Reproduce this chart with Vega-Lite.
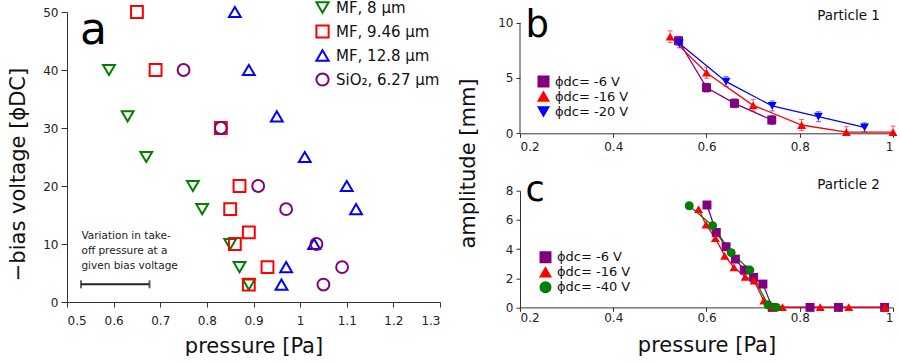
{
  "$schema": "https://vega.github.io/schema/vega-lite/v6.json",
  "background": "white",
  "padding": {"left": 7, "top": 0, "right": 2, "bottom": 0},
  "config": {
    "font": "DejaVu Sans",
    "view": {"stroke": null},
    "axis": {"grid": false, "domainColor": "#333", "tickColor": "#333", "labelColor": "#222", "labelFontSize": 12, "titleFontSize": 21, "titleFontWeight": "normal", "titleColor": "#111", "labelFont": "DejaVu Sans", "titleFont": "DejaVu Sans"},
    "legend": {"labelFont": "DejaVu Sans", "padding": 0, "labelColor": "#111", "symbolOpacity": 1}
  },
  "spacing": 16,
  "resolve": {"scale": {"x": "independent", "y": "independent", "color": "independent", "shape": "independent"}, "legend": {"color": "independent", "shape": "independent"}},
  "hconcat": [
    {
      "width": 373,
      "height": 290,
      "layer": [
        {
          "data": {"values": [
            {"s": "MF, 8 µm", "p": 0.59, "v": 40},
            {"s": "MF, 8 µm", "p": 0.63, "v": 32},
            {"s": "MF, 8 µm", "p": 0.67, "v": 25},
            {"s": "MF, 8 µm", "p": 0.77, "v": 20},
            {"s": "MF, 8 µm", "p": 0.79, "v": 16},
            {"s": "MF, 8 µm", "p": 0.85, "v": 10},
            {"s": "MF, 8 µm", "p": 0.87, "v": 6},
            {"s": "MF, 8 µm", "p": 0.89, "v": 3},
            {"s": "MF, 9.46 µm", "p": 0.65, "v": 50},
            {"s": "MF, 9.46 µm", "p": 0.69, "v": 40},
            {"s": "MF, 9.46 µm", "p": 0.83, "v": 30},
            {"s": "MF, 9.46 µm", "p": 0.87, "v": 20},
            {"s": "MF, 9.46 µm", "p": 0.85, "v": 16},
            {"s": "MF, 9.46 µm", "p": 0.89, "v": 12},
            {"s": "MF, 9.46 µm", "p": 0.86, "v": 10},
            {"s": "MF, 9.46 µm", "p": 0.93, "v": 6},
            {"s": "MF, 9.46 µm", "p": 0.89, "v": 3},
            {"s": "MF, 12.8 µm", "p": 0.86, "v": 50},
            {"s": "MF, 12.8 µm", "p": 0.89, "v": 40},
            {"s": "MF, 12.8 µm", "p": 0.95, "v": 32},
            {"s": "MF, 12.8 µm", "p": 1.01, "v": 25},
            {"s": "MF, 12.8 µm", "p": 1.10, "v": 20},
            {"s": "MF, 12.8 µm", "p": 1.12, "v": 16},
            {"s": "MF, 12.8 µm", "p": 1.03, "v": 10},
            {"s": "MF, 12.8 µm", "p": 0.97, "v": 6},
            {"s": "MF, 12.8 µm", "p": 0.96, "v": 3},
            {"s": "SiO₂, 6.27 µm", "p": 0.75, "v": 40},
            {"s": "SiO₂, 6.27 µm", "p": 0.83, "v": 30},
            {"s": "SiO₂, 6.27 µm", "p": 0.91, "v": 20},
            {"s": "SiO₂, 6.27 µm", "p": 0.97, "v": 16},
            {"s": "SiO₂, 6.27 µm", "p": 1.035, "v": 10},
            {"s": "SiO₂, 6.27 µm", "p": 1.09, "v": 6},
            {"s": "SiO₂, 6.27 µm", "p": 1.05, "v": 3}
          ]},
          "mark": {"type": "point", "filled": false, "strokeWidth": 2, "size": 140, "opacity": 1},
          "encoding": {
            "x": {"field": "p", "type": "quantitative", "scale": {"domain": [0.5, 1.3], "nice": false}, "axis": {"title": "pressure [Pa]", "values": [0.5, 0.6, 0.7, 0.8, 0.9, 1, 1.1, 1.2, 1.3], "format": "~r", "tickSize": 5, "labelPadding": 8, "titlePadding": 9}},
            "y": {"field": "v", "type": "quantitative", "scale": {"domain": [0, 50], "nice": false}, "axis": {"title": "−bias voltage  [ϕDC]", "values": [0, 10, 20, 30, 40, 50], "tickSize": 6, "labelPadding": 3, "titlePadding": 14, "titleY": 162}},
            "color": {"field": "s", "type": "nominal", "scale": {"domain": ["MF, 8 µm", "MF, 9.46 µm", "MF, 12.8 µm", "SiO₂, 6.27 µm"], "range": ["#008000", "#ff0000", "#0000ff", "#800080"]}, "legend": {"title": null, "orient": "none", "legendX": 248, "legendY": -12, "labelFontSize": 15, "symbolSize": 150, "symbolStrokeWidth": 2, "rowPadding": 4, "labelOffset": 6}},
            "shape": {"field": "s", "type": "nominal", "scale": {"domain": ["MF, 8 µm", "MF, 9.46 µm", "MF, 12.8 µm", "SiO₂, 6.27 µm"], "range": ["triangle-down", "square", "triangle-up", "circle"]}, "legend": {"title": null, "orient": "none", "legendX": 248, "legendY": -12, "labelFontSize": 15, "symbolSize": 150, "symbolStrokeWidth": 2, "rowPadding": 4, "labelOffset": 6}}
          }
        },
        {
          "data": {"values": [
            {"t": "Variation in take-", "p": 0.531, "v": 11.3},
            {"t": "off pressure at a", "p": 0.531, "v": 8.75},
            {"t": "given bias voltage", "p": 0.531, "v": 6.2}
          ]},
          "mark": {"type": "text", "align": "left", "baseline": "middle", "fontSize": 10.5, "color": "#222"},
          "encoding": {"x": {"field": "p", "type": "quantitative"}, "y": {"field": "v", "type": "quantitative"}, "text": {"field": "t"}}
        },
        {
          "data": {"values": [{"p": 0.53, "p2": 0.677, "v": 3.05}]},
          "mark": {"type": "rule", "strokeWidth": 2, "color": "#222"},
          "encoding": {"x": {"field": "p", "type": "quantitative"}, "x2": {"field": "p2"}, "y": {"field": "v", "type": "quantitative"}}
        },
        {
          "data": {"values": [{"p": 0.53, "v": 3.05}, {"p": 0.677, "v": 3.05}]},
          "mark": {"type": "tick", "orient": "vertical", "size": 8, "thickness": 2, "color": "#222"},
          "encoding": {"x": {"field": "p", "type": "quantitative"}, "y": {"field": "v", "type": "quantitative"}}
        },
        {
          "data": {"values": [{"t": "a", "p": 0.528, "v": 44.5}]},
          "mark": {"type": "text", "align": "left", "baseline": "alphabetic", "fontSize": 44, "color": "#000"},
          "encoding": {"x": {"field": "p", "type": "quantitative"}, "y": {"field": "v", "type": "quantitative"}, "text": {"field": "t"}}
        }
      ]
    },
    {
      "spacing": 56.7,
      "bounds": "flush",
      "resolve": {"scale": {"x": "independent", "y": "independent", "color": "independent", "shape": "independent"}, "legend": {"color": "independent", "shape": "independent"}},
      "vconcat": [
        {
          "width": 373,
          "height": 121.3,
          "data": {"values": [
            {"s": "ϕdc= -6 V", "p": 0.54, "a": 8.37, "lo": 7.97, "hi": 8.77},
            {"s": "ϕdc= -6 V", "p": 0.60, "a": 4.13, "lo": 3.73, "hi": 4.53},
            {"s": "ϕdc= -6 V", "p": 0.66, "a": 2.71, "lo": 2.31, "hi": 3.11},
            {"s": "ϕdc= -6 V", "p": 0.74, "a": 1.2, "lo": 0.8, "hi": 1.6},
            {"s": "ϕdc= -16 V", "p": 0.522, "a": 8.73, "lo": 8.2, "hi": 9.26},
            {"s": "ϕdc= -16 V", "p": 0.60, "a": 5.48, "lo": 4.98, "hi": 5.98},
            {"s": "ϕdc= -16 V", "p": 0.70, "a": 2.53, "lo": 2.0, "hi": 3.06},
            {"s": "ϕdc= -16 V", "p": 0.804, "a": 0.75, "lo": 0.25, "hi": 1.25},
            {"s": "ϕdc= -16 V", "p": 0.90, "a": 0.1, "lo": 0.0, "hi": 0.6},
            {"s": "ϕdc= -16 V", "p": 1.0, "a": 0.1, "lo": 0.0, "hi": 0.65},
            {"s": "ϕdc= -20 V", "p": 0.542, "a": 8.13, "lo": 7.73, "hi": 8.53},
            {"s": "ϕdc= -20 V", "p": 0.642, "a": 4.67, "lo": 4.22, "hi": 5.12},
            {"s": "ϕdc= -20 V", "p": 0.741, "a": 2.47, "lo": 2.02, "hi": 2.92},
            {"s": "ϕdc= -20 V", "p": 0.84, "a": 1.5, "lo": 1.05, "hi": 1.95},
            {"s": "ϕdc= -20 V", "p": 0.939, "a": 0.54, "lo": 0.14, "hi": 0.94}
          ]},
          "encoding": {
            "x": {"field": "p", "type": "quantitative", "scale": {"domain": [0.2, 1.0], "nice": false}, "axis": {"title": null, "values": [0.2, 0.4, 0.6, 0.8, 1], "format": "~r", "tickSize": 4, "labelPadding": 4}}
          },
          "layer": [
            {
              "data": {"values": [{"p": 0.2, "lo": 0, "hi": 10}]},
              "mark": {"type": "rule", "strokeWidth": 1, "color": "#333"},
              "encoding": {
                "y": {"field": "lo", "type": "quantitative", "scale": {"domain": [0, 10.967], "nice": false}, "axis": {"title": "amplitude [mm]", "domain": false, "values": [0, 2.5, 5, 7.5, 10], "format": "~r", "tickSize": 4, "labelPadding": 3, "titlePadding": 19, "titleY": 151}},
                "y2": {"field": "hi"}
              }
            },
            {
              "mark": {"type": "rule", "strokeWidth": 1, "opacity": 0.6},
              "encoding": {
                "y": {"field": "lo", "type": "quantitative"},
                "y2": {"field": "hi"},
                "color": {"field": "s", "type": "nominal", "scale": {"domain": ["ϕdc= -6 V", "ϕdc= -16 V", "ϕdc= -20 V"], "range": ["#800080", "#ff0000", "#0000ff"]}, "legend": {"title": null, "orient": "none", "legendX": 17, "legendY": 63, "labelFontSize": 13, "symbolSize": 110, "symbolOpacity": 1, "rowPadding": -2, "labelOffset": 5}}
              }
            },
            {
              "mark": {"type": "point", "shape": "stroke", "size": 25, "strokeWidth": 1, "filled": false, "opacity": 0.6},
              "encoding": {
                "y": {"field": "lo", "type": "quantitative"},
                "color": {"field": "s", "type": "nominal"}
              }
            },
            {
              "mark": {"type": "point", "shape": "stroke", "size": 25, "strokeWidth": 1, "filled": false, "opacity": 0.6},
              "encoding": {
                "y": {"field": "hi", "type": "quantitative"},
                "color": {"field": "s", "type": "nominal"}
              }
            },
            {
              "mark": {"type": "line", "strokeWidth": 1.3},
              "encoding": {
                "y": {"field": "a", "type": "quantitative"},
                "color": {"field": "s", "type": "nominal"}
              }
            },
            {
              "mark": {"type": "point", "filled": true, "size": 80, "opacity": 1},
              "encoding": {
                "y": {"field": "a", "type": "quantitative"},
                "color": {"field": "s", "type": "nominal"},
                "shape": {"field": "s", "type": "nominal", "scale": {"domain": ["ϕdc= -6 V", "ϕdc= -16 V", "ϕdc= -20 V"], "range": ["square", "triangle-up", "triangle-down"]}, "legend": {"title": null, "orient": "none", "legendX": 17, "legendY": 63, "labelFontSize": 13, "symbolSize": 110, "symbolOpacity": 1, "rowPadding": -2, "labelOffset": 5}}
              }
            },
            {
              "data": {"values": [{"t": "b", "p": 0.212, "a": 8.73}]},
              "mark": {"type": "text", "align": "left", "baseline": "alphabetic", "fontSize": 37, "color": "#000"},
              "encoding": {"y": {"field": "a", "type": "quantitative"}, "text": {"field": "t"}}
            },
            {
              "data": {"values": [{"t": "Particle 1", "p": 0.972, "a": 10.21}]},
              "mark": {"type": "text", "align": "right", "baseline": "alphabetic", "fontSize": 13.5, "color": "#111"},
              "encoding": {"y": {"field": "a", "type": "quantitative"}, "text": {"field": "t"}}
            }
          ]
        },
        {
          "width": 373,
          "height": 116.7,
          "data": {"values": [
            {"s": "ϕdc= -6 V", "p": 0.601, "a": 7.02},
            {"s": "ϕdc= -6 V", "p": 0.621, "a": 5.14},
            {"s": "ϕdc= -6 V", "p": 0.642, "a": 4.16},
            {"s": "ϕdc= -6 V", "p": 0.662, "a": 3.31},
            {"s": "ϕdc= -6 V", "p": 0.681, "a": 2.56},
            {"s": "ϕdc= -6 V", "p": 0.701, "a": 2.06},
            {"s": "ϕdc= -6 V", "p": 0.721, "a": 1.6},
            {"s": "ϕdc= -6 V", "p": 0.741, "a": 0},
            {"s": "ϕdc= -6 V", "p": 0.822, "a": 0},
            {"s": "ϕdc= -6 V", "p": 0.883, "a": 0},
            {"s": "ϕdc= -6 V", "p": 0.982, "a": 0},
            {"s": "ϕdc= -16 V", "p": 0.583, "a": 6.74},
            {"s": "ϕdc= -16 V", "p": 0.599, "a": 5.67},
            {"s": "ϕdc= -16 V", "p": 0.619, "a": 4.75},
            {"s": "ϕdc= -16 V", "p": 0.639, "a": 3.54},
            {"s": "ϕdc= -16 V", "p": 0.659, "a": 2.74},
            {"s": "ϕdc= -16 V", "p": 0.683, "a": 2.1},
            {"s": "ϕdc= -16 V", "p": 0.702, "a": 1.83},
            {"s": "ϕdc= -16 V", "p": 0.723, "a": 0.46},
            {"s": "ϕdc= -16 V", "p": 0.743, "a": 0.05},
            {"s": "ϕdc= -16 V", "p": 0.763, "a": 0.02},
            {"s": "ϕdc= -16 V", "p": 0.844, "a": 0.02},
            {"s": "ϕdc= -16 V", "p": 0.905, "a": 0.02},
            {"s": "ϕdc= -16 V", "p": 0.983, "a": 0.02},
            {"s": "ϕdc= -40 V", "p": 0.563, "a": 6.97},
            {"s": "ϕdc= -40 V", "p": 0.613, "a": 5.6},
            {"s": "ϕdc= -40 V", "p": 0.653, "a": 3.75},
            {"s": "ϕdc= -40 V", "p": 0.693, "a": 2.56},
            {"s": "ϕdc= -40 V", "p": 0.732, "a": 0.18},
            {"s": "ϕdc= -40 V", "p": 0.750, "a": 0}
          ]},
          "encoding": {
            "x": {"field": "p", "type": "quantitative", "scale": {"domain": [0.2, 1.0], "nice": false}, "axis": {"title": "pressure [Pa]", "values": [0.2, 0.4, 0.6, 0.8, 1], "format": "~r", "tickSize": 4, "labelPadding": 1, "titlePadding": 11}},
            "y": {"field": "a", "type": "quantitative", "scale": {"domain": [0, 8], "nice": false}, "axis": {"title": null, "values": [0, 2, 4, 6, 8], "tickSize": 4, "labelPadding": 3}}
          },
          "layer": [
            {
              "mark": {"type": "line", "strokeWidth": 1.3},
              "encoding": {
                "color": {"field": "s", "type": "nominal", "scale": {"domain": ["ϕdc= -6 V", "ϕdc= -16 V", "ϕdc= -40 V"], "range": ["#800080", "#ff0000", "#008000"]}, "legend": {"title": null, "orient": "none", "legendX": 19, "legendY": 60, "labelFontSize": 13, "symbolSize": 110, "symbolOpacity": 1, "rowPadding": -2, "labelOffset": 5}}
              }
            },
            {
              "mark": {"type": "point", "filled": true, "size": 80, "opacity": 1},
              "encoding": {
                "color": {"field": "s", "type": "nominal"},
                "shape": {"field": "s", "type": "nominal", "scale": {"domain": ["ϕdc= -6 V", "ϕdc= -16 V", "ϕdc= -40 V"], "range": ["square", "triangle-up", "circle"]}, "legend": {"title": null, "orient": "none", "legendX": 19, "legendY": 60, "labelFontSize": 13, "symbolSize": 110, "symbolOpacity": 1, "rowPadding": -2, "labelOffset": 5}}
              }
            },
            {
              "data": {"values": [{"t": "c", "p": 0.212, "a": 7.27}]},
              "mark": {"type": "text", "align": "left", "baseline": "alphabetic", "fontSize": 35, "color": "#000"},
              "encoding": {"text": {"field": "t"}}
            },
            {
              "data": {"values": [{"t": "Particle 2", "p": 0.972, "a": 8.12}]},
              "mark": {"type": "text", "align": "right", "baseline": "alphabetic", "fontSize": 13.5, "color": "#111"},
              "encoding": {"text": {"field": "t"}}
            }
          ]
        }
      ]
    }
  ]
}
